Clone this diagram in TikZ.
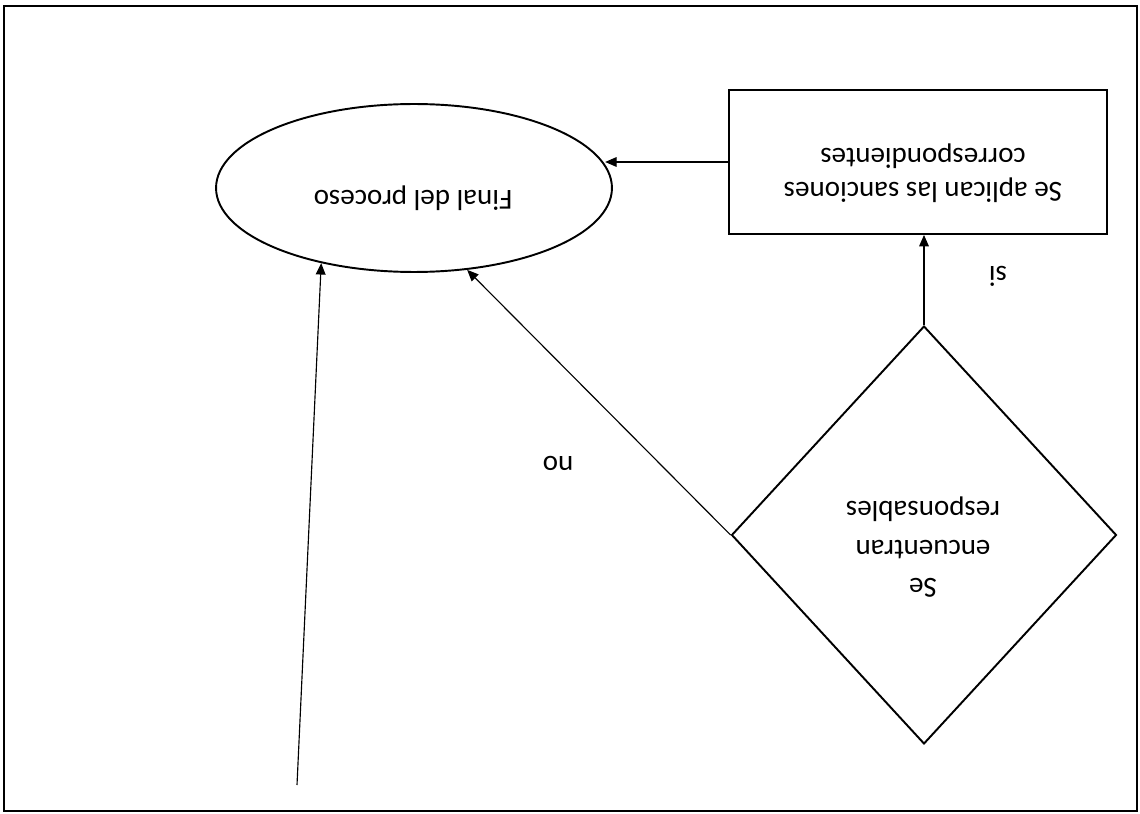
\documentclass[tikz,border=0pt]{standalone}
\usepackage{fontspec}
\setmainfont{Carlito}
\usetikzlibrary{shapes.geometric,arrows.meta,calc}
\newcommand{\flip}[1]{\rotatebox[origin=c]{180}{\begin{tabular}{@{}c@{}}#1\end{tabular}}}
\tikzset{
  shapeline/.style={draw=black, line width=1.1pt, inner sep=0pt},
  arr/.style={draw=black, line width=0.65pt, -{Triangle[length=6.5pt,width=5.5pt]}},
  lbl/.style={font=\fontsize{16.5}{19.5}\selectfont, inner sep=0pt},
}
\begin{document}
\begin{tikzpicture}[x=0.02cm,y=-0.02cm]
\useasboundingbox (0,0) rectangle (1140,814);
\fill[white] (0,0) rectangle (1140,814);
\draw[line width=0.9pt] (4,6) rectangle (1137,811);
\node[shapeline, ellipse, minimum width=7.92cm, minimum height=3.36cm] (ell) at (414,188) {};
\node[shapeline, rectangle, minimum width=7.56cm, minimum height=2.88cm] (rect) at (918,162) {};
\node[shapeline, diamond, minimum width=7.7cm, minimum height=8.36cm] (dia) at (924,535) {};
\node[lbl] (elltxt) at (413,197) {\flip{Final del proceso}};
\node[lbl] (recttxt) at (923,172) {\flip{Se aplican las sanciones\\ correspondientes}};
\node[lbl] (diatxt) at (923,547) {\flip{Se\\[2.5pt] encuentran\\[2.5pt] responsables}};
\node[lbl] (si) at (998,273) {\flip{si}};
\node[lbl] (no) at (558,463) {\flip{no}};
\coordinate (start) at (297,785);
\draw[arr] (rect.west) -- (rect.west -| ell.7);
\draw[arr] (dia.north) -- (dia.north |- rect.south);
\draw[arr] (dia.west) -- (ell.-57);
\draw[arr] (start) -- (ell.-141);
\end{tikzpicture}
\end{document}
